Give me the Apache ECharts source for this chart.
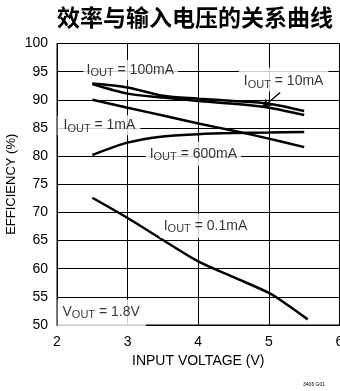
<!DOCTYPE html>
<html>
<head>
<meta charset="utf-8">
<script src="https://cdn.jsdelivr.net/npm/echarts@6/dist/echarts.min.js"></script>
<style>
  html, body { margin: 0; padding: 0; background: #fff; }
  #chart { width: 340px; height: 391px; }
</style>
</head>
<body>
<div id="chart"></div>
<script>
// Input voltage (V) sample points
const vin = [2.5, 3, 3.5, 4, 4.5, 5, 5.5];
const vinLow = [2.5, 3, 3.5, 4, 4.5, 5, 5.25, 5.55];

// Efficiency (%) for each load current
const eff100mA = [92.9, 92.2, 90.7, 90.2, 89.8, 89.3, 88.0];
const eff10mA = [92.8, 91.1, 90.4, 89.8, 89.3, 88.6, 87.3];
const eff1mA = [90.0, 88.6, 87.2, 85.8, 84.5, 83.1, 81.6];
const eff600mA = [80.2, 82.4, 83.5, 83.9, 84.1, 84.2, 84.3];
const eff01mA = [72.6, 69.0, 65.1, 61.3, 58.5, 55.7, 53.7, 51.0];

// Axis ticks
const xTicks = [2, 3, 4, 5, 6];
const yTicks = [50, 55, 60, 65, 70, 75, 80, 85, 90, 95, 100];

// Curve annotations: label text and anchor in data units
const notes = [
  { sym: 'I', tail: ' = 100mA', at: [2.369, 95.3], pad: [3, 4, 3, 3] },
  { sym: 'I', tail: ' = 10mA', at: [4.567, 93.6], pad: [7, 5, 3, 5] },
  { sym: 'I', tail: ' = 1mA', at: [2.0, 85.5], pad: [3, 5, 3, 6] },
  { sym: 'I', tail: ' = 600mA', at: [3.248, 80.4], pad: [5, 4, 5, 4] },
  { sym: 'I', tail: ' = 0.1mA', at: [3.447, 67.6], pad: [5, 4, 5, 4] },
  { sym: 'V', tail: ' = 1.8V', at: [2.0, 52.0], pad: [5, 6, 9, 5] }
];
// Arrow pointing the 10mA label at its curve
const arrowFrom = [5.16, 91.3];
const arrowTo = [4.905, 88.6];

const FONT = "'Liberation Sans Narrow', 'Liberation Sans', Arial, sans-serif";

function zip(xs, ys) { return xs.map((x, i) => [x, ys[i]]); }

function curve(name, xs, ys) {
  return {
    name: name,
    type: 'line',
    data: zip(xs, ys),
    smooth: 0.3,
    symbol: 'none',
    lineStyle: { color: '#000', width: 2.5 },
    z: 3
  };
}

const rich = {
  i: { fontFamily: FONT, fontSize: 14, color: '#000', lineHeight: 14, verticalAlign: 'top' },
  s: { fontFamily: FONT, fontSize: 11, color: '#000', lineHeight: 11, padding: [5, 0, 0, 0], verticalAlign: 'top' },
  t: { fontFamily: FONT, fontSize: 14, color: '#000', lineHeight: 14, verticalAlign: 'top' }
};

const chart = echarts.init(document.getElementById('chart'), null, { renderer: 'canvas' });

chart.setOption({
  animation: false,
  backgroundColor: '#fff',
  graphic: [
    {
      type: 'text',
      left: 57,
      top: 6,
      style: {
        text: '效率与输入电压的关系曲线',
        font: "bold 23px 'Noto Sans CJK SC', sans-serif",
        fill: '#000'
      }
    },
    {
      type: 'text',
      right: 15,
      top: 382,
      style: { text: '3406 G01', font: "5px " + FONT, fill: '#000' }
    }
  ],
  grid: {
    left: 57, right: 0.5, top: 43.5, bottom: 66,
    outerBoundsMode: 'none',
    containLabel: false,
    show: true, borderColor: '#000', borderWidth: 1
  },
  xAxis: {
    type: 'value',
    min: xTicks[0], max: xTicks[xTicks.length - 1], interval: 1,
    name: 'INPUT VOLTAGE (V)',
    nameLocation: 'middle',
    nameGap: 29,
    nameMoveOverlap: false,
    nameTextStyle: { fontFamily: FONT, fontSize: 14, color: '#000' },
    axisLine: { lineStyle: { color: '#000', width: 1 } },
    axisTick: { show: false },
    axisLabel: { fontFamily: FONT, fontSize: 14, color: '#000', margin: 10 },
    splitLine: { show: true, lineStyle: { color: '#000', width: 1 } }
  },
  yAxis: {
    type: 'value',
    min: yTicks[0], max: yTicks[yTicks.length - 1], interval: 5,
    name: 'EFFICIENCY (%)',
    nameLocation: 'middle',
    nameGap: 39,
    nameMoveOverlap: false,
    nameTextStyle: { fontFamily: FONT, fontSize: 13, color: '#000' },
    axisLine: { show: true, lineStyle: { color: '#000', width: 1 } },
    axisTick: { show: false },
    axisLabel: { fontFamily: FONT, fontSize: 14, color: '#000', margin: 9 },
    splitLine: { show: true, lineStyle: { color: '#000', width: 1 } }
  },
  series: [
    curve('100mA', vin, eff100mA),
    Object.assign(curve('10mA', vin, eff10mA), {
      markLine: {
        silent: true,
        symbol: ['none', 'arrow'],
        symbolSize: [7, 9],
        label: { show: false },
        lineStyle: { color: '#000', width: 1.3, type: 'solid' },
        data: [[{ coord: arrowFrom }, { coord: arrowTo }]]
      }
    }),
    curve('1mA', vin, eff1mA),
    curve('600mA', vin, eff600mA),
    curve('0.1mA', vinLow, eff01mA),
    {
      name: 'notes',
      type: 'scatter',
      symbolSize: 1,
      itemStyle: { color: 'rgba(0,0,0,0)' },
      silent: true,
      z: 4,
      data: notes.map(n => ({
        value: n.at,
        label: {
          show: true,
          position: 'right',
          distance: 0,
          backgroundColor: '#fff',
          padding: n.pad,
          formatter: '{i|' + n.sym + '}{s|OUT}{t|' + n.tail + '}',
          rich: rich
        }
      }))
    }
  ]
});
</script>
</body>
</html>
